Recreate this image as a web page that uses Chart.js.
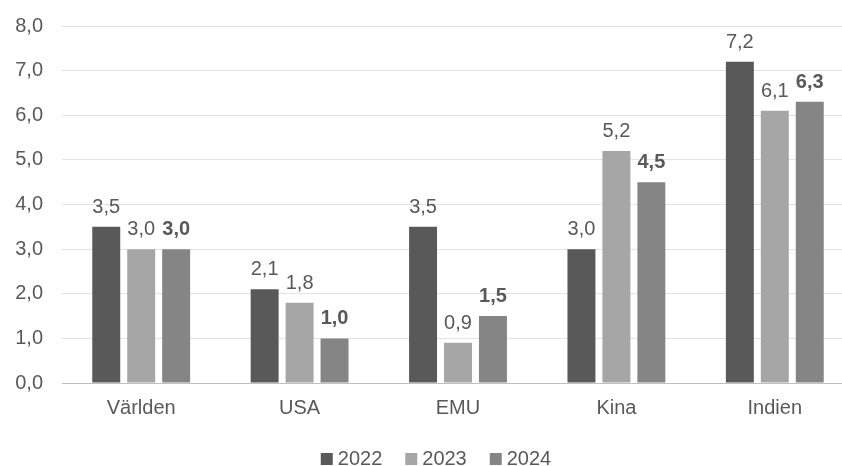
<!DOCTYPE html>
<html><head><meta charset="utf-8">
<script src="https://cdn.jsdelivr.net/npm/chart.js@4"></script>
<style>
html,body{margin:0;padding:0;background:#fff;overflow:hidden;width:842px;height:466px;}
canvas{display:block;}
</style></head>
<body>
<canvas id="c" width="874" height="466"></canvas>
<script>
const categories = ["Världen", "USA", "EMU", "Kina", "Indien"];
const seriesNames = ["2022", "2023", "2024"];
const values2022 = [3.5, 2.1, 3.5, 3.0, 7.2];
const values2023 = [3.0, 1.8, 0.9, 5.2, 6.1];
const values2024 = [3.0, 1.0, 1.5, 4.5, 6.3];
const yTicks = [0, 1, 2, 3, 4, 5, 6, 7, 8];

const colors = ["#595959", "#A6A6A6", "#858585"];
const boldLabels = [false, false, true];
const FONT = "'Liberation Sans', Arial, sans-serif";
const TEXT = "#595959";
const fmt = v => v.toFixed(1).replace('.', ',');

const labelPlugin = {
  id: 'barLabels',
  afterDatasetsDraw(chart) {
    const ctx = chart.ctx;
    ctx.save();
    ctx.fillStyle = TEXT;
    ctx.textAlign = 'center';
    ctx.textBaseline = 'alphabetic';
    chart.data.datasets.forEach((ds, i) => {
      const meta = chart.getDatasetMeta(i);
      ctx.font = (boldLabels[i] ? 'bold ' : '') + '20px ' + FONT;
      meta.data.forEach((bar, j) => {
        ctx.fillText(fmt(ds.data[j]), bar.x, bar.y - 14);
      });
    });
    ctx.restore();
  }
};

const legendPlugin = {
  id: 'customLegend',
  afterDraw(chart) {
    const ctx = chart.ctx;
    ctx.save();
    ctx.font = '20px ' + FONT;
    const box = 12, gap = 5, spacing = 23;
    const widths = chart.data.datasets.map(ds => ctx.measureText(ds.label).width);
    let total = 0;
    widths.forEach((w, i) => { total += box + gap + w + (i < widths.length - 1 ? spacing : 0); });
    let x = 436 - total / 2;
    const base = 465;
    chart.data.datasets.forEach((ds, i) => {
      ctx.fillStyle = ds.backgroundColor;
      ctx.fillRect(x, base - 12, box, box);
      x += box + gap;
      ctx.fillStyle = TEXT;
      ctx.textAlign = 'left';
      ctx.textBaseline = 'alphabetic';
      ctx.fillText(ds.label, x, base);
      x += widths[i] + spacing;
    });
    ctx.restore();
  }
};

new Chart(document.getElementById('c'), {
  type: 'bar',
  data: {
    labels: categories,
    datasets: [
      { label: seriesNames[0], data: values2022, backgroundColor: colors[0] },
      { label: seriesNames[1], data: values2023, backgroundColor: colors[1] },
      { label: seriesNames[2], data: values2024, backgroundColor: colors[2] }
    ]
  },
  options: {
    responsive: false,
    animation: false,
    devicePixelRatio: 1,
    categoryPercentage: 0.662,
    barPercentage: 0.8,
    layout: { padding: { left: 14, right: 20, top: 26, bottom: 46 } },
    plugins: { legend: { display: false }, tooltip: { enabled: false } },
    scales: {
      x: {
        grid: { display: false, drawTicks: false },
        border: { display: false },
        ticks: { color: TEXT, font: { family: FONT, size: 20 }, padding: 13 },
        afterFit: axis => { axis.height = 37; axis.paddingLeft = 0; axis.paddingRight = 0; }
      },
      y: {
        min: 0, max: 8,
        afterBuildTicks: axis => { axis.ticks = yTicks.map(v => ({ value: v })); },
        grid: {
          drawTicks: false,
          color: c => c.tick && c.tick.value === 0 ? '#BFBFBF' : '#E3E3E3',
          lineWidth: 1
        },
        border: { display: false },
        ticks: { color: TEXT, font: { family: FONT, size: 20 }, padding: 19, callback: v => fmt(v) },
        afterFit: axis => { axis.width = 48; axis.paddingTop = 0; axis.paddingBottom = 0; }
      }
    }
  },
  plugins: [labelPlugin, legendPlugin]
});
</script>
</body></html>
